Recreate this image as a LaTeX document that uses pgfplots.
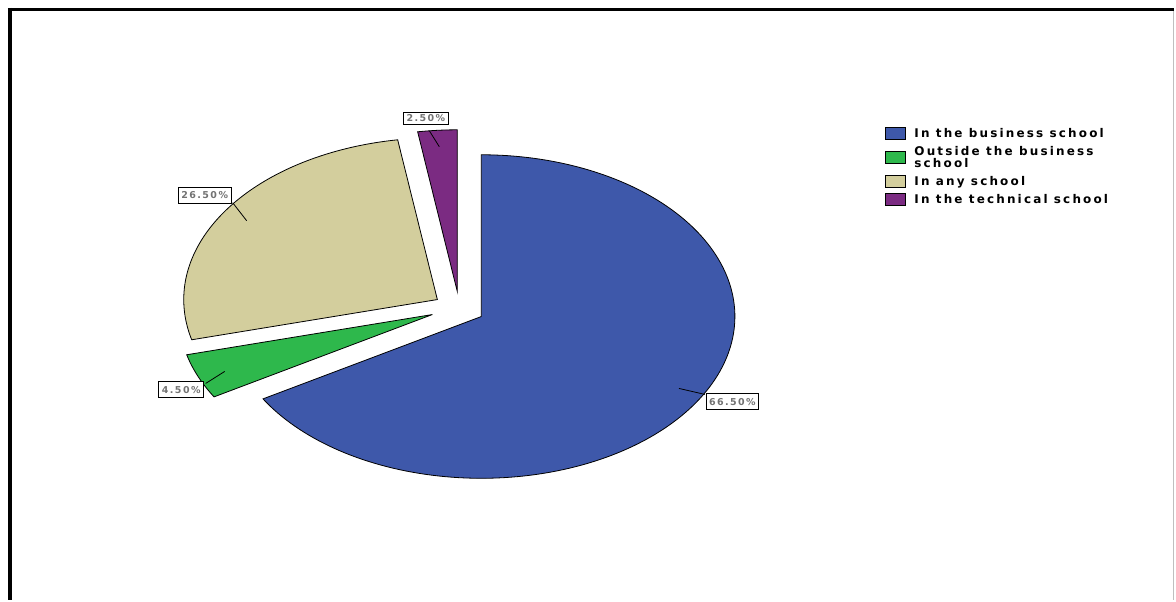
\documentclass[border=0pt]{standalone}
\usepackage{fontspec}
\setmainfont{Liberation Sans}
\newfontfamily\legfont[LetterSpace=18]{DejaVu Sans}
\newfontfamily\labfont[LetterSpace=15]{DejaVu Sans}
\usepackage{pgfplots}
\pgfplotsset{compat=1.18}
\definecolor{cblue}{RGB}{62,88,170}
\definecolor{cgreen}{RGB}{46,184,76}
\definecolor{ctan}{RGB}{211,206,157}
\definecolor{cpurple}{RGB}{123,43,130}
% slice shares (percent): 66.5, 4.5, 26.5, 2.5 ; angles = 3.6 * share, clockwise from 90 deg
\begin{document}
\begin{tikzpicture}
\begin{axis}[
  scale only axis, width=1176bp, height=601bp,
  xmin=0, xmax=1176, ymin=0, ymax=601, y dir=reverse,
  axis lines=none, clip=false,
  legend style={at={(0.7534,0.7904)}, anchor=north west, draw=none, fill=none,
    font=\legfont\bfseries\fontsize{12bp}{12bp}\selectfont,
    cells={align=left, anchor=west}, row sep=3.5bp, inner sep=0pt,
    nodes={inner xsep=9bp}},
  legend image code/.code={\draw[#1, draw=black, line width=0.6bp] (0bp,-6bp) rectangle (20bp,6bp);},
]
\path (axis cs:0,0) rectangle (axis cs:1176,601);
% In the business school 66.5% : 90 -> 90-239.4
\addplot[fill=cblue, draw=black, line width=0.8bp, domain=-149.4:90, samples=160]
  ({482+254*cos(x)},{317-162*sin(x)}) -- (axis cs:482,317) -- cycle;
\addlegendentry{In the business school}
% Outside 4.5% : -149.4 -> -165.6
\addplot[fill=cgreen, draw=black, line width=0.8bp, domain=-165.6:-149.4, samples=20]
  ({433+254*cos(x)},{315-162*sin(x)}) -- (axis cs:433,315) -- cycle;
\addlegendentry{Outside the business\\school}
% In any school 26.5% : -165.6 -> -261.0
\addplot[fill=ctan, draw=black, line width=0.8bp, domain=-261:-165.6, samples=80]
  ({438+254*cos(x)},{300-162*sin(x)}) -- (axis cs:438,300) -- cycle;
\addlegendentry{In any school}
% In the technical school 2.5% : -261 -> -270
\addplot[fill=cpurple, draw=black, line width=0.8bp, domain=-270:-261, samples=12]
  ({458+254*cos(x)},{292-162*sin(x)}) -- (axis cs:458,292) -- cycle;
\addlegendentry{In the technical school}
% leader lines
\draw[black, line width=0.8bp] (axis cs:680,389) -- (axis cs:706,395);
\draw[black, line width=0.8bp] (axis cs:247,221) -- (axis cs:233,203);
\draw[black, line width=0.8bp] (axis cs:225,372) -- (axis cs:206,384);
\draw[black, line width=0.8bp] (axis cs:440,147) -- (axis cs:430,131);
% value labels
\tikzset{vlab/.style={draw=black, fill=white, text=black!55, line width=1bp,
  font=\labfont\bfseries\fontsize{9.5bp}{9.5bp}\selectfont, inner xsep=3bp, inner ysep=0pt,
  minimum height=16bp}}
\node[vlab] at (axis cs:733.5,402.5) {66.50\%};
\node[vlab] at (axis cs:205,195.5) {26.50\%};
\node[vlab] at (axis cs:181.5,390.5) {4.50\%};
\node[vlab, minimum height=12bp] at (axis cs:426.5,118.5) {2.50\%};
% frame
\draw[black, line width=3.5bp] (axis cs:8,9.5) -- (axis cs:1176,9.5);
\draw[black, line width=3.5bp] (axis cs:10.2,8) -- (axis cs:10.2,601);
\draw[black!25, line width=1bp] (axis cs:1175.3,11) -- (axis cs:1175.3,601);
\end{axis}
\end{tikzpicture}
\end{document}
